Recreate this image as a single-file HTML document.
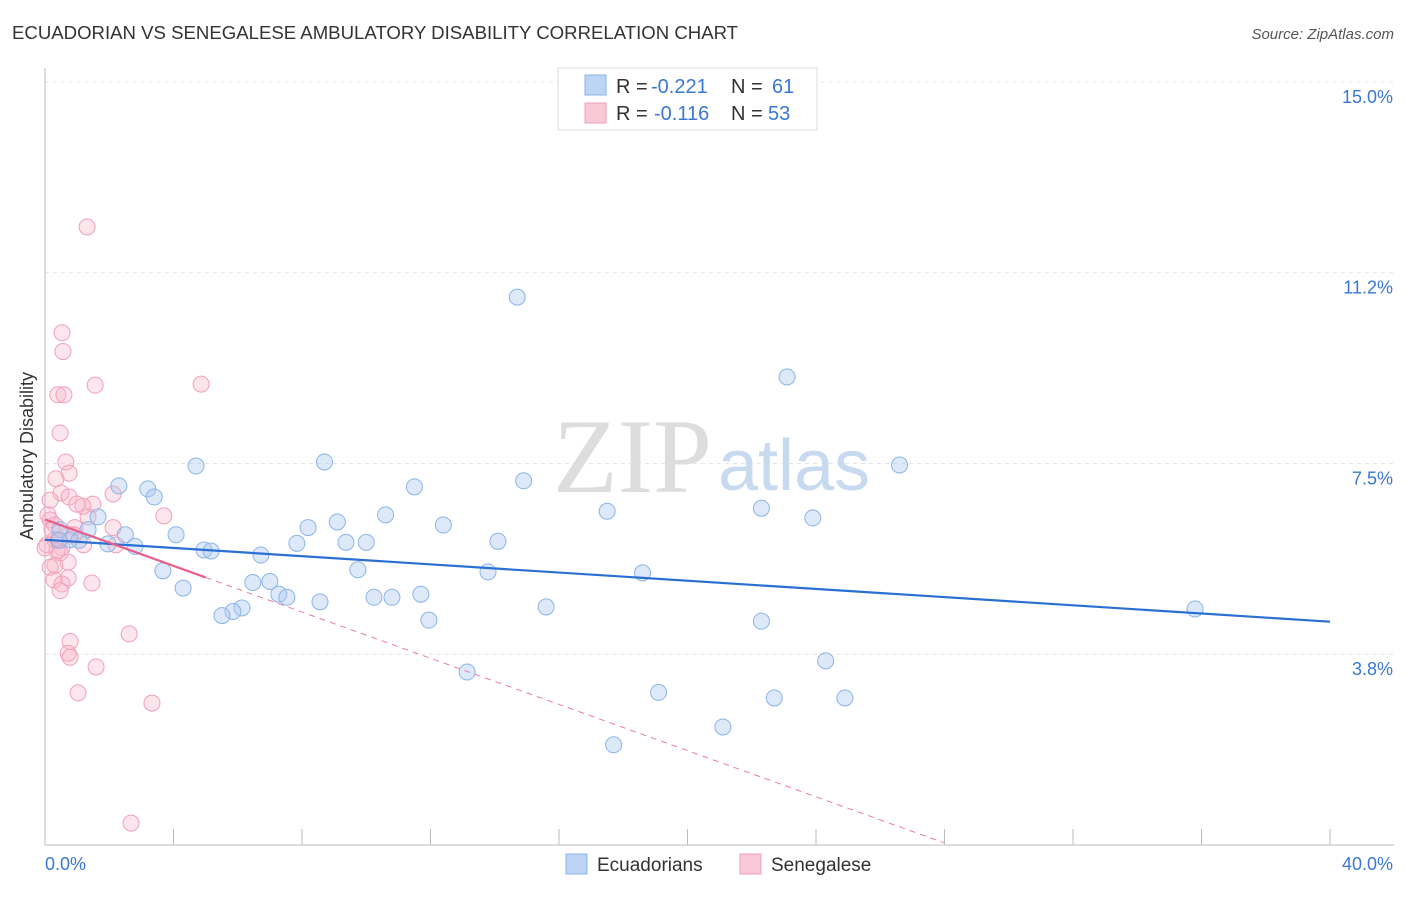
<!DOCTYPE html>
<html><head><meta charset="utf-8"><style>
body{margin:0;background:#fff;font-family:"Liberation Sans",sans-serif;}
</style></head><body>
<svg id="c" width="1406" height="892" xmlns="http://www.w3.org/2000/svg">
<text x="12" y="39" font-size="18.6" fill="#333">ECUADORIAN VS SENEGALESE AMBULATORY DISABILITY CORRELATION CHART</text>
<text x="1394" y="39" font-size="15" fill="#555" font-style="italic" text-anchor="end">Source: ZipAtlas.com</text>
<text x="33" y="456" font-size="18" fill="#333" text-anchor="middle" transform="rotate(-90 33 456)">Ambulatory Disability</text>
<g id="grid"></g>
<text x="553" y="492" font-size="106" fill="#ddd" font-family="Liberation Serif,serif">ZIP</text>
<text x="718" y="490" font-size="72" fill="#c8daf0">atlas</text>
<g id="pts"></g>
<g id="lines"></g>
<g font-size="20">
<rect x="558" y="68" width="259" height="62" fill="#fff" stroke="#ddd"/>
<rect x="585" y="75" width="21" height="20" fill="#bcd5f5" stroke="#8ab4e8"/>
<rect x="585" y="103" width="21" height="20" fill="#f9c8d6" stroke="#f0a0b8"/>
<text x="616" y="93" fill="#333">R =</text>
<text x="651" y="93" fill="#3a78d4">-0.221</text>
<text x="731" y="93" fill="#333">N =</text>
<text x="772" y="93" fill="#3a78d4">61</text>
<text x="616" y="120" fill="#333">R =</text>
<text x="654" y="120" fill="#3a78d4">-0.116</text>
<text x="731" y="120" fill="#333">N =</text>
<text x="768" y="120" fill="#3a78d4">53</text>
</g>
<g>
<rect x="566" y="854" width="21" height="20" fill="#bcd5f5" stroke="#8ab4e8"/>
<text x="597" y="871" font-size="19" fill="#333">Ecuadorians</text>
<rect x="740" y="854" width="21" height="20" fill="#f9c8d6" stroke="#f0a0b8"/>
<text x="771" y="871" font-size="19" fill="#333">Senegalese</text>
</g>
</svg>
<script>
const yTicks=[3.75,7.5,11.25,15];
const yTickLabels=["3.8%","7.5%","11.2%","15.0%"];
const xTicks=[0,4,8,12,16,20,24,28,32,36,40];
const blueX=[14.7,23.1,4.7,8.7,26.6,14.9,11.5,2.3,3.2,3.4,17.5,22.3,23.9,10.6,9.1,12.4,1.65,1.34,2.5,0.47,0.78,2.8,1.06,1.96,4.08,8.19,14.1,7.84,9.37,10.0,4.95,5.17,6.72,3.67,9.74,13.79,18.6,6.47,7.0,4.3,7.28,7.53,10.24,10.8,11.7,8.56,15.6,35.8,6.13,5.85,5.51,11.95,22.3,24.3,13.14,19.1,22.7,24.9,21.1,17.7,0.44];
const blueY=[10.77,9.2,7.45,7.53,7.47,7.16,7.04,7.06,7.0,6.84,6.56,6.62,6.43,6.49,6.35,6.29,6.45,6.2,6.1,6.2,6.0,5.87,5.99,5.92,6.1,6.24,5.97,5.93,5.95,5.95,5.8,5.78,5.7,5.39,5.41,5.37,5.35,5.16,5.18,5.05,4.93,4.87,4.87,4.87,4.93,4.78,4.68,4.64,4.66,4.59,4.51,4.42,4.4,3.62,3.4,3.0,2.89,2.89,2.32,1.97,5.99];
const pinkX=[1.31,0.53,0.56,1.56,4.86,0.4,0.59,0.47,0.65,0.75,0.34,0.5,0.75,2.12,1.49,0.16,1.18,0.99,3.7,1.34,0.09,0.16,0.31,0.93,0.22,2.12,0.78,0.4,0.06,0.53,2.21,0.37,0.47,0.31,0.72,0.16,0.72,0.28,1.46,0.53,0.47,2.62,0.78,0.72,0.78,1.59,1.03,3.33,2.68,0.31,0.0,0.9,1.2];
const pinkY=[12.15,10.07,9.7,9.04,9.06,8.85,8.85,8.1,7.53,7.31,7.2,6.92,6.84,6.9,6.7,6.78,6.66,6.7,6.47,6.45,6.49,6.39,6.29,6.24,6.2,6.24,6.1,6.0,5.9,5.84,5.9,5.78,5.74,5.5,5.56,5.46,5.25,5.21,5.15,5.13,5.0,4.15,4.0,3.77,3.69,3.5,2.99,2.79,0.43,6.0,5.84,6.1,5.9];
const X=v=>45+v*32.125, Y=v=>845-v*50.87;
const NS="http://www.w3.org/2000/svg";
function mk(t,a,p){const e=document.createElementNS(NS,t);for(const k in a)e.setAttribute(k,a[k]);p.appendChild(e);return e;}
const g=document.getElementById('grid');
yTicks.forEach((v,i)=>{
 const l=mk('line',{x1:45,x2:1394,y1:Y(v),y2:Y(v),stroke:'#e4e4e4','stroke-dasharray':'4,4'},g);
 
 
 const t=mk('text',{x:1393,y:Y(v)+21,'font-size':18,fill:'#3a78d4','text-anchor':'end'},g);
 t.textContent=yTickLabels[i];
 
 
});
const ax=mk('line',{x1:45,x2:45,y1:68,y2:845,stroke:'#bbb'},g);


const bx=mk('line',{x1:45,x2:1394,y1:845,y2:845,stroke:'#bbb'},g);


xTicks.forEach(v=>{const t=mk('line',{x1:X(v),x2:X(v),y1:829,y2:845,stroke:'#bbb'},g);
 
 });
[[0,"0.0%",45,'start'],[40,"40.0%",1393,'end']].forEach(d=>{const t=mk('text',{x:d[2],y:870,'font-size':18,fill:'#3a78d4','text-anchor':d[3]},g);t.textContent=d[1];
 
 });
const p=document.getElementById('pts');
pinkX.forEach((v,i)=>{const c=mk('circle',{cx:X(v),cy:Y(pinkY[i]),r:8,fill:'rgba(248,180,200,0.35)',stroke:'#f0a0b8','stroke-width':1},p);
 
 });
blueX.forEach((v,i)=>{const c=mk('circle',{cx:X(v),cy:Y(blueY[i]),r:8,fill:'rgba(170,200,240,0.4)',stroke:'#8ab4e8','stroke-width':1},p);
 
 });
const L=document.getElementById('lines');
const bl=mk('line',{x1:X(0),y1:Y(6.0),x2:X(40),y2:Y(4.39),stroke:'#2a6fd4','stroke-width':2.2},L);


const pd=mk('line',{x1:X(5),y1:Y(5.26),x2:X(28.0),y2:Y(0.04),stroke:'#e87fa0','stroke-width':1,'stroke-dasharray':'6,5'},L);


const ps=mk('line',{x1:X(0),y1:Y(6.4),x2:X(5),y2:Y(5.26),stroke:'#e8608a','stroke-width':2.2},L);


</script>
</body></html>
